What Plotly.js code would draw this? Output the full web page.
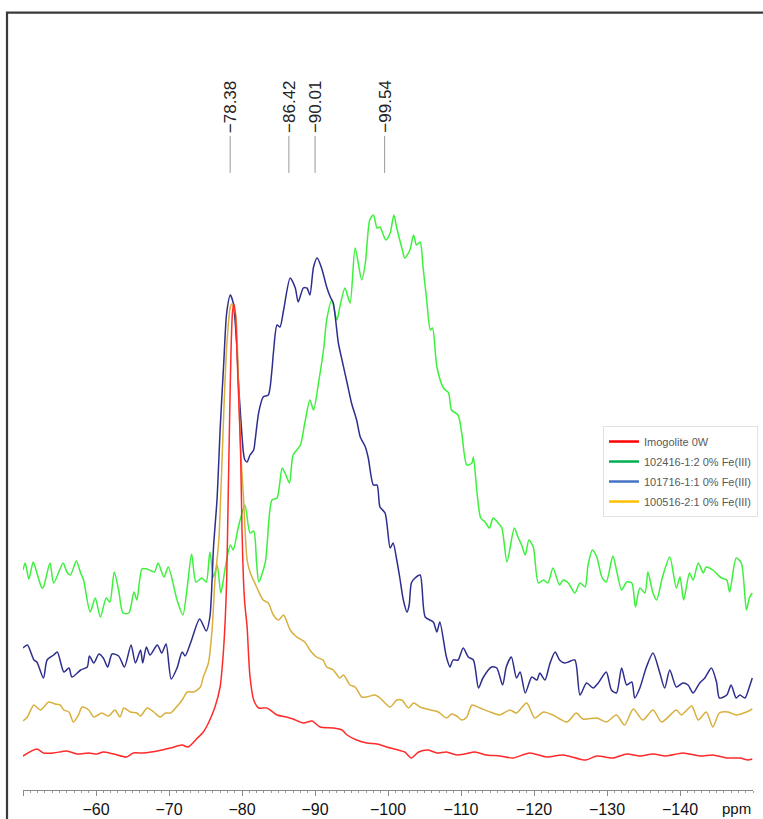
<!DOCTYPE html>
<html><head><meta charset="utf-8">
<script src="https://cdn.plot.ly/plotly-3.0.1.min.js"></script>
<style>html,body{margin:0;padding:0;background:#fff;overflow:hidden;}#chart{width:763px;height:819px;}</style>
</head><body><div id="chart"></div>
<script>
// Chemical shift (ppm) and intensity (arbitrary units, offset stacked)
const redX = [-50.0,-51.9,-52.8,-54.2,-56.0,-57.4,-59.0,-60.1,-61.0,-62.4,-64.2,-65.1,-66.5,-68.4,-70.2,-71.8,-72.6,-73.9,-74.7,-75.4,-76.3,-77.0,-77.4,-77.7,-77.9,-78.1,-78.3,-78.5,-78.7,-78.9,-79.1,-79.3,-79.5,-79.8,-80.0,-80.2,-80.4,-80.7,-80.9,-81.1,-81.6,-82.3,-83.4,-84.8,-86.1,-87.0,-88.4,-89.6,-90.7,-92.5,-93.7,-94.4,-95.7,-97.1,-98.5,-99.8,-101.4,-102.3,-103.2,-104.2,-105.5,-106.7,-108.0,-109.4,-110.5,-111.9,-113.5,-115.3,-117.1,-119.4,-121.7,-124.0,-127.1,-128.6,-130.8,-132.7,-134.5,-136.3,-138.1,-140.4,-142.7,-144.5,-146.4,-148.2,-149.3,-149.9];
const redY = [34,41,37,37,39,36,37,36,38,36,33,37,37,39,42,45,43,52,58,67,83,103,133,170,210,290,370,440,478,486,475,440,400,340,260,210,185,163,135,113,90,82,82,75,73,71,67,69,63,62,60,55,50,47,46,43,40,38,32,38,40,37,38,35,36,38,35,34,32,37,33,35,30,34,32,36,34,36,34,37,34,35,32,32,30,31];

const goldX = [-50.0,-50.6,-51.5,-52.4,-53.5,-54.4,-55.1,-55.6,-56.3,-56.9,-57.6,-58.1,-59.0,-59.7,-60.8,-61.7,-62.6,-63.3,-63.8,-64.7,-65.6,-66.1,-67.0,-67.9,-68.8,-69.5,-70.2,-70.9,-71.8,-72.5,-73.4,-74.3,-74.7,-75.4,-75.9,-76.3,-76.8,-77.0,-77.5,-77.9,-78.4,-78.6,-79.1,-79.5,-79.8,-80.2,-80.7,-81.1,-82.0,-82.9,-83.6,-84.3,-85.0,-85.7,-86.6,-87.5,-88.6,-89.3,-90.2,-91.1,-91.6,-92.5,-93.4,-93.9,-94.8,-95.5,-96.4,-97.1,-98.2,-98.9,-100.3,-101.2,-101.9,-102.8,-103.5,-104.4,-105.8,-106.9,-108.0,-108.7,-109.4,-110.1,-110.8,-111.5,-112.6,-114.0,-115.3,-116.7,-117.6,-119.0,-120.1,-121.3,-122.6,-124.5,-125.8,-126.7,-128.6,-129.9,-131.3,-132.4,-133.6,-134.9,-136.3,-137.5,-139.5,-140.2,-141.6,-142.5,-143.6,-144.5,-145.4,-146.6,-147.7,-149.1,-149.9];
const goldY = [69,73,85,80,88,86,85,80,78,68,75,83,80,73,77,74,80,73,82,78,77,74,82,78,73,77,77,82,90,98,98,103,113,127,160,210,247,277,377,443,483,486,477,410,343,293,230,218,203,190,187,175,170,175,160,153,148,140,133,130,123,120,112,115,105,103,93,93,95,92,83,90,90,82,87,83,80,78,72,76,74,70,73,85,82,78,75,80,77,87,72,78,75,68,77,71,72,68,75,65,81,70,80,68,80,75,84,70,78,63,77,78,75,78,81];

const navyX = [-50.0,-50.6,-51.5,-51.9,-52.8,-53.3,-54.2,-54.7,-55.6,-56.3,-56.7,-57.9,-58.8,-59.1,-59.7,-60.4,-61.0,-61.6,-62.2,-63.1,-63.9,-64.8,-65.4,-66.1,-66.4,-66.9,-67.4,-68.4,-69.0,-69.6,-70.3,-71.1,-71.8,-72.2,-73.0,-74.2,-75.1,-75.6,-76.1,-76.6,-77.0,-77.5,-77.9,-78.4,-78.8,-79.3,-79.5,-79.8,-80.2,-80.4,-80.7,-81.1,-81.6,-81.8,-82.3,-82.9,-83.6,-84.1,-84.3,-84.8,-85.2,-85.7,-86.6,-87.3,-87.7,-88.4,-88.9,-89.3,-89.8,-90.3,-90.9,-91.6,-92.1,-92.5,-93.2,-93.7,-94.4,-95.0,-95.7,-96.2,-96.9,-97.3,-98.0,-98.5,-98.9,-99.6,-100.3,-100.7,-101.2,-101.6,-102.1,-102.6,-102.9,-103.2,-103.7,-104.4,-105.1,-106.2,-106.7,-107.1,-108.0,-108.5,-108.9,-109.6,-110.3,-111.0,-111.7,-112.4,-113.0,-114.2,-114.9,-115.7,-116.2,-116.9,-117.6,-118.1,-118.8,-119.7,-120.4,-120.8,-121.5,-122.2,-122.9,-123.5,-124.2,-124.7,-125.6,-126.3,-127.2,-128.1,-128.8,-129.9,-130.6,-131.3,-132.0,-132.7,-133.4,-133.8,-134.5,-135.4,-136.3,-137.2,-137.9,-138.6,-139.5,-140.4,-141.1,-141.8,-142.7,-143.4,-144.3,-145.0,-145.4,-146.4,-147.0,-147.7,-148.2,-148.9,-149.5,-149.9];
const navyY = [142,145,130,128,112,130,135,138,118,122,113,120,123,134,127,136,132,123,136,134,123,145,127,140,127,143,135,145,137,146,111,122,138,134,148,171,159,173,243,293,360,427,477,495,487,443,410,375,337,330,328,335,340,350,378,393,395,420,437,465,463,480,512,502,488,502,502,495,523,532,522,503,493,487,447,430,407,387,370,353,343,332,305,305,283,277,242,247,230,213,190,178,185,207,212,215,173,168,158,168,133,123,130,130,142,133,130,102,112,123,122,105,123,133,112,118,97,113,110,117,110,127,138,130,127,128,130,95,107,102,107,118,100,97,122,105,108,92,102,123,137,118,102,120,103,107,105,97,107,112,122,108,92,95,105,92,95,92,103,112];

const greenX = [-50.0,-50.3,-50.8,-51.4,-51.9,-52.6,-52.8,-53.7,-54.2,-55.5,-56.0,-56.5,-57.3,-57.9,-58.3,-59.2,-59.9,-60.6,-61.4,-61.9,-62.5,-63.1,-63.7,-64.5,-65.2,-65.6,-66.3,-67.0,-68.0,-68.5,-69.3,-69.9,-71.1,-71.9,-72.5,-73.1,-73.7,-74.5,-75.1,-75.6,-76.1,-76.6,-77.1,-77.7,-78.4,-78.8,-79.5,-80.4,-81.1,-81.6,-82.0,-82.3,-83.2,-84.1,-84.8,-85.5,-85.9,-86.5,-87.0,-88.0,-88.6,-89.3,-89.8,-90.5,-91.2,-91.6,-92.3,-93.0,-93.4,-94.1,-94.8,-95.5,-96.4,-96.9,-97.5,-98.0,-98.5,-98.9,-99.7,-100.3,-100.8,-101.2,-101.9,-102.3,-103.0,-103.5,-103.9,-104.4,-104.8,-105.3,-105.8,-106.1,-106.7,-107.6,-108.3,-108.7,-109.6,-110.1,-110.8,-111.5,-111.7,-112.2,-112.7,-113.3,-113.9,-114.4,-115.1,-115.6,-116.3,-117.3,-117.8,-118.3,-118.8,-119.3,-119.9,-120.6,-121.3,-121.9,-122.6,-123.5,-124.0,-124.7,-125.6,-126.3,-127.0,-127.4,-128.0,-128.6,-129.3,-129.9,-130.8,-131.3,-132.0,-132.7,-133.4,-133.9,-134.5,-135.2,-135.6,-136.3,-136.8,-137.6,-138.6,-139.5,-140.0,-140.5,-141.3,-141.8,-142.5,-143.2,-143.6,-144.5,-145.2,-145.7,-146.4,-146.8,-147.7,-148.4,-149.1,-149.5,-149.9];
const greenY = [220,227,211,228,217,202,203,227,207,227,218,215,229,217,210,178,192,173,192,188,218,200,177,177,198,190,221,221,218,227,213,223,190,175,203,236,208,212,208,238,213,225,197,222,245,240,263,285,257,259,227,208,228,290,292,322,317,307,335,345,367,390,380,408,442,470,490,470,483,502,487,542,510,527,570,575,562,563,550,557,575,562,542,532,540,555,545,548,523,490,460,462,423,402,397,380,375,357,325,327,333,297,272,268,262,272,267,262,228,262,253,245,235,250,243,207,210,207,222,205,210,207,197,207,203,225,240,233,213,208,234,220,200,208,207,183,202,197,218,197,190,213,233,202,213,190,217,210,227,217,223,220,215,212,210,198,232,227,180,192,197];

const seriesNames = ['Imogolite 0W', '102416-1:2 0% Fe(III)', '101716-1:1 0% Fe(III)', '100516-2:1 0% Fe(III)'];
const peaks = [-78.38, -86.42, -90.01, -99.54];
const peakLabels = ['\u221278.38', '\u221286.42', '\u221290.01', '\u221299.54'];
const tickVals = [-50, -60, -70, -80, -90, -100, -110, -120, -130, -140];
const tickText = ['', '\u221260', '\u221270', '\u221280', '\u221290', '\u2212100', '\u2212110', '\u2212120', '\u2212130', '\u2212140'];

const lineColors = {red: '#ff2a2a', gold: '#d8b03e', navy: '#2e2e8e', green: '#3cf03c'};
const legendColors = ['#ff0000', '#00b050', '#4472c4', '#ffc000'];

function curve(x, y, color) {
  return {x: x, y: y, type: 'scatter', mode: 'lines', showlegend: false, hoverinfo: 'skip',
          line: {color: color, width: 1.5, shape: 'spline', smoothing: 0.7}};
}
const traces = [
  curve(greenX, greenY, lineColors.green),
  curve(navyX, navyY, lineColors.navy),
  curve(goldX, goldY, lineColors.gold),
  curve(redX, redY, lineColors.red)
];
seriesNames.forEach((n, i) => {
  traces.push({x: [null], y: [null], type: 'scatter', mode: 'lines', name: n,
    legendgroup: 'g' + i, line: {color: legendColors[i], width: 2.5}});
});

const shapes = [
  {type: 'rect', xref: 'paper', yref: 'paper', x0: -0.0219, x1: 1.3, y0: -0.3, y1: 1.0097,
   line: {color: '#3a3a3a', width: 2.2}, layer: 'above'}
];
peaks.forEach(p => shapes.push({type: 'line', xref: 'x', yref: 'paper', x0: p, x1: p,
  y0: 0.8013, y1: 0.8494, line: {color: '#999', width: 1}}));

const annotations = peaks.map((p, i) => ({
  x: p, y: 0.8506, xref: 'x', yref: 'paper', text: peakLabels[i], showarrow: false,
  textangle: -90, xanchor: 'center', yanchor: 'bottom',
  font: {family: 'Liberation Sans Narrow, Liberation Sans, Arial, sans-serif', size: 17, color: '#222'}
}));
annotations.push({x: 0.978, y: -0.0245, xref: 'paper', yref: 'paper', text: 'ppm', showarrow: false,
  xanchor: 'center', yanchor: 'middle', font: {family: 'Liberation Sans, Arial, sans-serif', size: 15, color: '#111'}});

const layout = {
  width: 763, height: 819,
  margin: {l: 23, r: 10, t: 20, b: 29, autoexpand: false},
  paper_bgcolor: '#fff', plot_bgcolor: '#fff',
  showlegend: true,
  legend: {x: 1.0068, xanchor: 'right', y: 0.4727, yanchor: 'top',
    bgcolor: '#fff', bordercolor: '#e2e2e2', borderwidth: 1,
    font: {family: 'Liberation Sans, Arial, sans-serif', size: 11, color: '#595959'},
    itemwidth: 30, traceorder: 'grouped', tracegroupgap: 1},
  xaxis: {range: [-50, -150], showgrid: false, zeroline: false, showline: true,
    linecolor: '#8a8a8a', linewidth: 1, ticks: 'outside', ticklen: 5, tickcolor: '#8a8a8a',
    tickmode: 'array', tickvals: tickVals, ticktext: tickText,
    tickfont: {family: 'Liberation Sans, Arial, sans-serif', size: 16, color: '#111'},
    minor: {tickmode: 'linear', tick0: 0, dtick: 1, ticks: 'outside', ticklen: 2, tickcolor: '#9a9a9a'},
    fixedrange: true, automargin: false},
  yaxis: {range: [0, 770], visible: false, fixedrange: true},
  shapes: shapes,
  annotations: annotations
};
Plotly.newPlot('chart', traces, layout, {displayModeBar: false, staticPlot: true});
</script></body></html>
